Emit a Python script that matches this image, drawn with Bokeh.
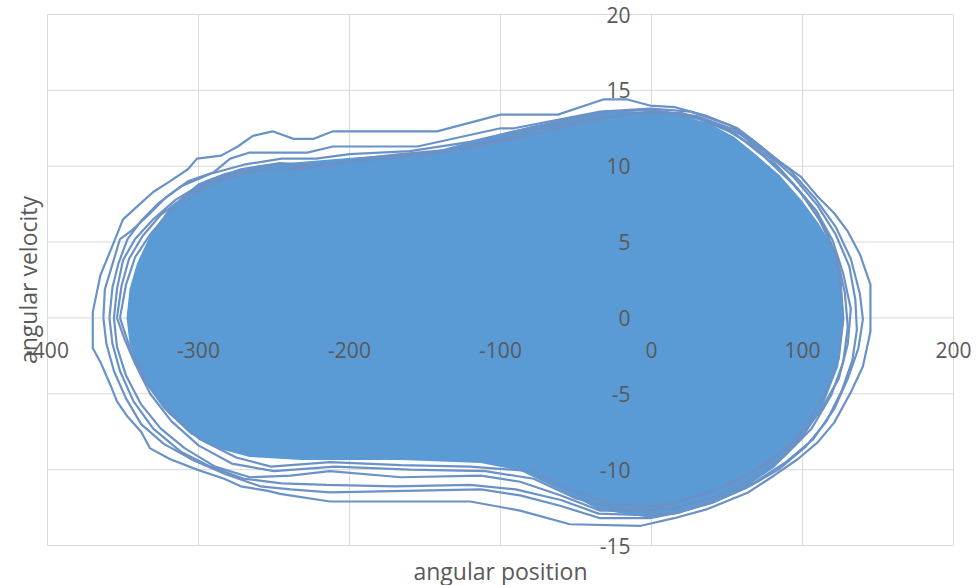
import math
from bokeh.plotting import figure
from bokeh.models import Range1d, LabelSet, Label, ColumnDataSource
from bokeh.core.properties import value
from bokeh.embed import file_html
from bokeh.resources import INLINE

# Axis extents and tick values
x_min, x_max = -400, 200
y_min, y_max = -15, 20
x_ticks = [-400, -300, -200, -100, 0, 100, 200]
y_ticks = [-15, -10, -5, 0, 5, 10, 15, 20]

# Outermost trajectory loop (angular position, angular velocity)
loop_a_x = [-370, -370, -365, -356, -350, -340, -330, -319, -307, -301, -285, -274, -264, -251, -237, -224,
            -211, -142, -100, -62, -32, -16, -1, 15, 37, 57, 70, 85, 99, 110, 121, 130, 138, 145, 145, 140,
            132, 121, 110, 97, 81, 64, 37, 15, -7, -54, -87, -120, -213, -246, -254, -272, -283, -301, -319,
            -332, -338, -347, -354, -358, -365, -370]
loop_a_y = [0, 0.4, 2.8, 5.0, 6.5, 7.4, 8.3, 9.0, 9.8, 10.5, 10.7, 11.3, 12.0, 12.3, 11.8, 11.8,
            12.3, 12.3, 13.4, 13.4, 14.4, 14.4, 14.0, 13.9, 13.3, 12.5, 11.5, 10.3, 9.3, 8.0, 6.9, 5.7, 4.2, 2.2, -0.9, -3.2,
            -4.9, -6.9, -8.2, -9.3, -10.4, -11.5, -12.6, -13.2, -13.7, -13.6, -12.7, -12.1, -12.1, -11.6, -11.4, -11.1, -10.6, -10.0, -9.3,
            -8.6, -7.5, -6.5, -5.5, -4.5, -2.9, -2.0]

# Second loop
loop_b_x = [-363, -362, -358, -352, -345, -334, -321, -307, -290, -279, -266, -228, -211, -155, -100, -91,
            -34, -1, 26, 52, 72, 92, 109, 122, 132, 138, 140, 137, 130, 121, 107, 89, 69, 46, 19, -1,
            -34, -60, -87, -113, -213, -239, -259, -282, -303, -323, -338, -348, -356, -361]
loop_b_y = [0, 1.9, 3.2, 5.2, 5.7, 6.7, 8.0, 9.0, 9.6, 10.5, 10.9, 10.9, 11.3, 11.3, 12.5, 12.5,
            13.6, 13.8, 13.6, 12.7, 11.3, 9.7, 7.8, 6.0, 3.9, 1.6, -0.1, -2.0, -4.0, -6.0, -8.0, -9.5, -10.8, -11.9, -12.8, -13.2,
            -13.2, -12.4, -11.7, -11.3, -11.5, -11.3, -11.1, -10.3, -9.4, -8.3, -7.0, -5.3, -3.5, -1.7]

# Third loop
loop_f_x = [-359, -357, -353, -347, -338, -326, -311, -292, -270, -245, -222, -200, -160, -120, -95, -60,
            -30, 0, 30, 55, 75, 94, 110, 122, 131, 135, 136, 133, 126, 116, 102, 84, 63, 40, 15, -5,
            -35, -60, -90, -120, -170, -215, -245, -270, -292, -312, -330, -343, -352, -357]
loop_f_y = [0, 2.0, 3.6, 5.2, 6.4, 7.6, 8.7, 9.5, 10.1, 10.5, 10.5, 10.8, 11.0, 11.6, 12.2, 13.0,
            13.6, 13.7, 13.3, 12.4, 11.0, 9.3, 7.4, 5.5, 3.4, 1.2, -0.8, -2.8, -4.8, -6.8, -8.5, -10.0, -11.2, -12.2, -12.9, -13.0,
            -12.9, -12.0, -11.3, -11.0, -11.1, -11.0, -10.9, -10.6, -9.8, -8.8, -7.3, -5.5, -3.5, -1.7]

# Fourth loop
loop_c_x = [-356, -354, -350, -342, -330, -315, -295, -272, -246, -213, -193, -166, -133, -100, -60, -21,
            6, 32, 56, 75, 94, 109, 120, 127, 132, 130, 124, 112, 97, 77, 54, 26, -1, -34, -60, -87,
            -113, -166, -213, -239, -266, -289, -309, -325, -338, -348, -354]
loop_c_y = [0, 1.9, 3.8, 5.2, 6.5, 7.8, 9.0, 9.8, 10.2, 10.0, 10.5, 10.8, 11.1, 11.8, 12.8, 13.4,
            13.6, 13.1, 12.1, 10.6, 8.8, 7.1, 5.1, 2.9, 0.6, -1.7, -4.0, -6.1, -8.0, -9.6, -10.9, -11.9, -12.7, -12.7, -11.7, -10.8,
            -10.4, -10.5, -10.1, -10.4, -10.5, -9.8, -8.6, -7.3, -5.7, -3.8, -1.9]

# Fifth loop
loop_e_x = [-354, -351, -346, -337, -325, -309, -290, -268, -240, -210, -180, -140, -105, -70, -40, -10,
            20, 45, 66, 85, 102, 115, 123, 128, 130, 127, 119, 106, 88, 67, 42, 12, -20, -50, -78, -110,
            -160, -210, -250, -278, -300, -318, -332, -342, -349]
loop_e_y = [0, 2.1, 3.9, 5.4, 6.8, 8.0, 9.1, 9.7, 9.9, 10.2, 10.6, 10.9, 11.5, 12.3, 13.0, 13.5,
            13.5, 12.7, 11.4, 9.8, 7.9, 5.9, 3.9, 1.7, -0.6, -2.9, -5.1, -7.3, -9.1, -10.6, -11.8, -12.6, -12.6, -11.9, -10.6, -10.1,
            -10.0, -9.8, -10.1, -9.6, -8.4, -6.8, -5.0, -3.0, -1.4]

# Sixth loop
loop_d_x = [-352, -348, -342, -332, -319, -302, -282, -259, -232, -199, -153, -113, -74, -34, -1, 32,
            59, 79, 97, 111, 121, 125, 127, 124, 115, 102, 84, 62, 36, 6, -27, -54, -80, -120, -166, -213,
            -252, -275, -299, -319, -333, -344]
loop_d_y = [0, 2.2, 4.0, 5.5, 7.0, 8.2, 9.2, 9.7, 9.8, 10.3, 10.7, 11.3, 12.5, 13.2, 13.6, 13.2,
            12.1, 10.5, 8.5, 6.5, 4.4, 2.2, -0.1, -2.7, -5.0, -7.2, -9.0, -10.4, -11.6, -12.4, -12.3, -11.3, -10.1, -9.8, -9.7, -9.5,
            -9.8, -9.2, -8.0, -6.3, -4.4, -2.4]

# Dense core traced by the many inner loops
core_x = [-347, -345, -340, -331, -318, -300, -282, -259, -199, -144, -111, -78, -45, -32, 15, 37,
          54, 70, 85, 99, 110, 119, 125, 127, 123, 112, 99, 81, 59, 37, 15, -1, -34, -60, -87, -113,
          -166, -232, -266, -285, -305, -323, -338, -345]
core_y = [0, 1.9, 3.6, 5.5, 7.3, 8.8, 9.5, 10.0, 10.5, 10.9, 11.8, 12.6, 13.2, 13.6, 13.4, 12.8,
          11.9, 10.6, 9.3, 7.7, 6.2, 4.7, 2.9, 0, -3.2, -6.0, -8.0, -9.8, -11.3, -12.1, -12.8, -13.1, -12.6, -11.3, -10.0, -9.5,
          -9.3, -9.3, -9.1, -8.6, -7.6, -5.9, -3.8, -1.7]

BLUE = "#5B9BD5"
LINE = "#6A92C6"
GRID = "#D9D9D9"
TXT = "#595959"
FONT = "Open Sans"

# Canvas layout: the frame fills the whole canvas so that tick labels at the plot-area
# edges are not clipped; the Excel-like plot area is drawn with grid segments.
W, H = 975, 585
PA_L, PA_T, PA_W, PA_H = 47, 14, 906, 531
ux = (x_max - x_min) / PA_W
uy = (y_max - y_min) / PA_H
xr = Range1d(x_min - PA_L * ux, x_min - PA_L * ux + W * ux)
yr = Range1d(y_max + PA_T * uy - H * uy, y_max + PA_T * uy)

p = figure(frame_width=W, frame_height=H, output_backend="svg", toolbar_location=None,
           x_range=xr, y_range=yr, x_axis_type=None, y_axis_type=None,
           min_border_left=0, min_border_top=0, min_border_right=0, min_border_bottom=0,
           outline_line_color=None, background_fill_color="white", border_fill_color="white")

# Grid lines (including the plot-area border)
p.segment(x0=x_ticks, y0=[y_min] * len(x_ticks), x1=x_ticks, y1=[y_max] * len(x_ticks),
          line_color=GRID, line_width=1)
p.segment(x0=[x_min] * len(y_ticks), y0=y_ticks, x1=[x_max] * len(y_ticks), y1=y_ticks,
          line_color=GRID, line_width=1)

p.patch(core_x, core_y, fill_color=BLUE, line_color=BLUE, line_width=2)
loops = [(loop_d_x, loop_d_y), (loop_e_x, loop_e_y), (loop_c_x, loop_c_y),
         (loop_f_x, loop_f_y), (loop_b_x, loop_b_y), (loop_a_x, loop_a_y)]
for lx, ly in loops:
    p.line(lx + lx[:1], ly + ly[:1], line_color=LINE, line_width=2.2)

# Tick labels at the axes crossing (x axis at y=0, y axis at x=0)
xsrc = ColumnDataSource(dict(x=x_ticks, y=[0] * len(x_ticks), t=[str(v) for v in x_ticks]))
ysrc = ColumnDataSource(dict(x=[0] * len(y_ticks), y=y_ticks, t=[str(v) for v in y_ticks]))
p.add_layout(LabelSet(x="x", y="y", text="t", source=xsrc, text_align="center", text_baseline="middle",
                      y_offset=-32, text_font_size=value("21px"), text_font=value(FONT), text_color=TXT))
p.add_layout(LabelSet(x="x", y="y", text="t", source=ysrc, text_align="right", text_baseline="middle",
                      x_offset=-21, text_font_size=value("21px"), text_font=value(FONT), text_color=TXT))

# Axis titles
p.add_layout(Label(x=(x_min + x_max) / 2, y=y_min, y_offset=-25, text="angular position",
                   text_align="center", text_baseline="middle", text_font_size="23px",
                   text_font=FONT, text_color=TXT))
p.add_layout(Label(x=x_min, y=(y_min + y_max) / 2, x_offset=-20, text="angular velocity",
                   angle=math.pi / 2, text_align="center", text_baseline="middle", text_font_size="23px",
                   text_font=FONT, text_color=TXT))

open("out.html", "w").write(file_html(p, INLINE))
